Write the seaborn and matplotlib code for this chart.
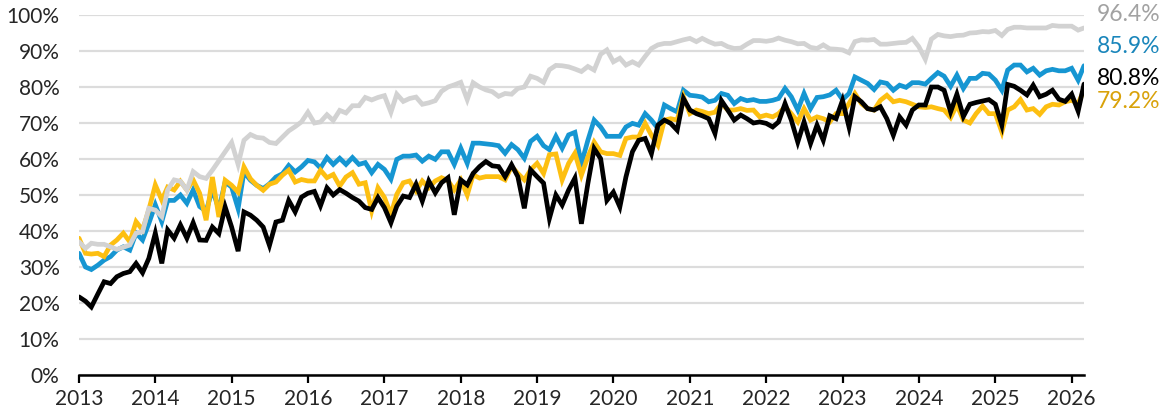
import pandas as pd
import matplotlib
matplotlib.use("Agg")
import matplotlib.pyplot as plt
import matplotlib.dates as mdates
from matplotlib.ticker import PercentFormatter, MultipleLocator
import seaborn as sns

sns.set_theme(style="white")
plt.rcParams["font.family"] = ["Lato", "DejaVu Sans"]

# monthly values, Jan 2013 .. Mar 2026 (percent)
gray_vals = [
    37.0, 35.2, 36.6, 36.3, 36.3, 35.6, 34.9, 35.5, 36.1, 39.4, 39.8, 46.3,
    45.8, 44.0, 51.4, 54.2, 53.8, 51.4, 56.5, 55.1, 54.6, 56.9, 59.5, 62.0,
    64.6, 58.5, 65.2, 66.8, 66.0, 65.8, 64.6, 64.3, 66.1, 67.8, 69.0, 70.3,
    73.0, 70.0, 70.3, 72.3, 70.7, 73.5, 72.8, 74.8, 74.8, 77.1, 76.4, 77.1,
    77.6, 73.0, 78.0, 76.0, 76.8, 77.2, 75.2, 75.6, 76.2, 78.8, 80.0, 80.6,
    81.3, 76.5, 81.2, 80.0, 79.2, 78.7, 77.4, 78.2, 78.0, 79.6, 80.0, 83.0,
    82.4, 81.3, 84.8, 86.0, 85.9, 85.6, 85.0, 84.3, 85.7, 84.7, 89.1, 90.3,
    87.0, 88.0, 86.1, 87.0, 86.1, 88.5, 90.7, 91.7, 92.1, 92.1, 92.6, 93.1,
    93.5, 92.6, 93.5, 92.6, 91.9, 92.1, 91.2, 90.7, 90.8, 91.9, 92.9, 92.9,
    92.7, 93.0, 93.6, 93.0, 92.6, 92.0, 92.1, 91.0, 90.7, 91.7, 90.6, 90.5,
    90.3, 89.5, 92.6, 93.1, 93.0, 93.2, 91.9, 91.9, 92.1, 92.3, 92.4, 93.5,
    91.2, 87.7, 93.3, 94.6, 94.2, 94.0, 94.3, 94.4, 95.0, 95.1, 95.4, 95.3,
    95.7, 94.3, 96.0, 96.6, 96.6, 96.4, 96.4, 96.4, 96.4, 97.1, 96.9, 96.9,
    96.9, 95.8, 96.4,
]
blue_vals = [
    33.8, 30.0, 29.3, 30.5, 31.9, 32.9, 34.7, 35.6, 34.7, 39.4, 37.5, 42.1,
    47.3, 42.6, 48.5, 48.5, 50.0, 47.7, 51.4, 46.8, 45.5, 51.5, 46.0, 53.6,
    52.2, 46.2, 56.4, 54.1, 52.7, 51.8, 53.1, 55.0, 55.9, 58.2, 56.4, 57.8,
    59.6, 59.2, 57.5, 60.4, 58.5, 60.2, 58.5, 60.4, 58.5, 59.0, 56.2, 58.5,
    57.1, 54.4, 59.9, 60.8, 60.8, 61.1, 59.4, 60.8, 59.9, 62.0, 62.0, 58.5,
    63.0, 58.8, 64.4, 64.4, 64.2, 64.0, 63.7, 61.6, 64.0, 62.6, 60.2, 64.9,
    66.3, 63.7, 62.6, 66.3, 63.0, 66.7, 67.4, 58.7, 65.2, 70.8, 68.9, 66.3,
    66.3, 66.3, 68.9, 69.9, 69.4, 72.6, 70.8, 68.5, 75.0, 74.0, 73.1, 79.1,
    77.7, 77.5, 77.2, 75.9, 76.3, 78.2, 77.7, 75.4, 76.8, 76.2, 76.5, 76.0,
    76.0, 76.3, 76.8, 79.6, 77.3, 73.6, 78.2, 74.0, 77.1, 77.3, 77.8, 79.1,
    76.5, 78.2, 82.8, 81.9, 81.0, 79.3, 81.4, 81.0, 79.1, 80.5, 79.9, 81.2,
    81.2, 80.8, 82.4, 84.0, 83.0, 80.2, 83.3, 79.6, 82.4, 82.4, 83.8, 83.6,
    81.9, 79.1, 84.7, 86.1, 86.1, 84.2, 85.2, 83.3, 84.5, 84.9, 84.5, 84.5,
    85.2, 81.9, 85.9,
]
yellow_vals = [
    38.0, 33.8, 33.6, 33.8, 32.9, 36.1, 37.5, 39.4, 37.0, 42.6, 40.3, 45.9,
    52.8, 48.6, 52.2, 51.4, 53.8, 51.4, 54.2, 50.5, 43.0, 55.0, 43.9, 54.1,
    52.7, 50.8, 57.8, 54.5, 52.7, 51.3, 53.0, 53.6, 55.5, 56.9, 53.6, 54.3,
    53.9, 53.9, 56.9, 54.8, 55.7, 52.5, 55.0, 56.2, 53.0, 53.4, 45.6, 52.0,
    49.3, 44.6, 50.2, 53.4, 53.9, 51.1, 53.9, 52.0, 53.9, 54.8, 54.0, 51.4,
    54.2, 50.0, 55.6, 54.7, 55.1, 55.1, 55.1, 54.2, 57.9, 56.0, 54.2, 57.0,
    58.8, 56.0, 61.2, 61.4, 54.2, 58.8, 61.6, 55.5, 60.6, 64.7, 62.0, 61.5,
    61.5, 61.0, 65.7, 66.1, 66.1, 69.9, 66.6, 63.8, 70.8, 71.2, 70.8, 77.3,
    72.6, 73.6, 73.2, 72.6, 73.0, 75.4, 73.6, 73.6, 74.0, 73.5, 73.6, 71.7,
    72.2, 71.7, 72.6, 74.5, 72.6, 70.3, 74.0, 70.8, 71.7, 71.2, 70.3, 72.6,
    72.6, 75.4, 78.2, 75.4, 74.0, 73.6, 76.3, 77.7, 75.9, 76.3, 75.9, 75.2,
    74.5, 74.3, 74.5, 74.0, 73.6, 71.5, 75.0, 70.8, 70.0, 72.6, 74.7, 72.6,
    72.6, 67.5, 73.6, 74.5, 76.5, 73.6, 74.0, 72.4, 74.5, 75.2, 75.0, 75.9,
    76.3, 75.4, 79.2,
]
black_vals = [
    21.7, 20.5, 18.9, 22.5, 25.9, 25.4, 27.3, 28.2, 28.7, 31.0, 28.4, 32.4,
    39.4, 31.0, 40.3, 38.0, 41.7, 38.0, 42.3, 37.5, 37.4, 41.1, 39.3, 46.7,
    41.1, 34.4, 45.3, 44.4, 43.0, 41.1, 36.0, 42.5, 43.0, 48.5, 45.3, 49.4,
    50.5, 51.0, 47.0, 52.0, 50.0, 51.5, 50.5, 49.3, 48.3, 46.5, 46.0, 49.3,
    46.5, 42.3, 46.9, 49.7, 49.3, 53.0, 48.3, 53.9, 50.6, 53.4, 54.8, 44.5,
    54.2, 52.8, 56.0, 57.9, 59.3, 58.1, 57.9, 55.1, 58.4, 55.1, 46.3, 57.0,
    55.1, 53.3, 43.5, 50.0, 47.2, 51.4, 54.7, 42.0, 53.2, 62.9, 60.1, 48.5,
    50.8, 46.7, 55.0, 62.0, 65.2, 65.7, 61.5, 69.4, 70.8, 69.9, 68.0, 76.8,
    73.6, 72.6, 72.0, 71.2, 67.1, 76.2, 73.6, 70.8, 72.2, 71.2, 70.0, 70.3,
    69.9, 68.9, 70.3, 75.4, 70.8, 64.7, 70.3, 64.3, 69.4, 65.2, 72.0, 71.2,
    76.3, 68.9, 77.3, 75.9, 74.0, 73.6, 74.5, 71.2, 66.6, 71.7, 69.4, 73.6,
    75.0, 75.0, 80.0, 80.0, 79.1, 73.1, 78.0, 71.8, 75.2, 75.7, 76.1, 76.5,
    75.2, 69.4, 80.7, 80.2, 79.1, 77.8, 80.5, 77.3, 78.0, 79.1, 76.6, 76.0,
    78.0, 73.3, 80.8,
]
dates = pd.date_range("2013-01-01", periods=len(gray_vals), freq="MS")

# draw order: blue, yellow, gray, black on top
series = [
    ("blue", blue_vals, "#1696d2", "#1a86bb", 19),
    ("yellow", yellow_vals, "#fdbf11", "#d9a20a", -12),
    ("gray", gray_vals, "#d2d2d2", "#a2a2a2", 13),
    ("black", black_vals, "#000000", "#000000", 6),
]

fig = plt.figure(figsize=(11.74, 4.15), dpi=100)
ax = fig.add_axes([79 / 1174, 1 - 375 / 415, (1084 - 79) / 1174, (375 - 15) / 415])

for name, vals, color, txt_color, dy in series:
    sns.lineplot(x=dates, y=vals, color=color, linewidth=3.4, ax=ax,
                 solid_joinstyle="miter", zorder=3)
    ax.annotate(f"{vals[-1]:.1f}%", xy=(dates[-1], vals[-1]),
                xytext=(9, dy * 0.72), textcoords="offset points",
                ha="left", va="center", fontsize=16.5, color=txt_color,
                annotation_clip=False)

ax.set_xlim(dates[0], dates[-1])
ax.set_ylim(0, 100)
ax.yaxis.set_major_locator(MultipleLocator(10))
ax.yaxis.set_major_formatter(PercentFormatter(xmax=100, decimals=0))
ax.xaxis.set_major_locator(mdates.YearLocator())
ax.xaxis.set_major_formatter(mdates.DateFormatter("%Y"))

ax.grid(axis="y", color="#dcdcdc", linewidth=1.6, zorder=0)
ax.grid(axis="x", visible=False)
for side in ["left", "right", "top"]:
    ax.spines[side].set_visible(False)
ax.spines["bottom"].set_color("black")
ax.spines["bottom"].set_linewidth(1.8)
ax.spines["bottom"].set_zorder(4)

ax.tick_params(axis="x", direction="out", length=6, width=1.6, color="black",
               labelsize=15, pad=4, bottom=True)
ax.tick_params(axis="y", length=0, labelsize=15, pad=14)
ax.set_xlabel("")
ax.set_ylabel("")

fig.savefig("out.png", dpi=100)
